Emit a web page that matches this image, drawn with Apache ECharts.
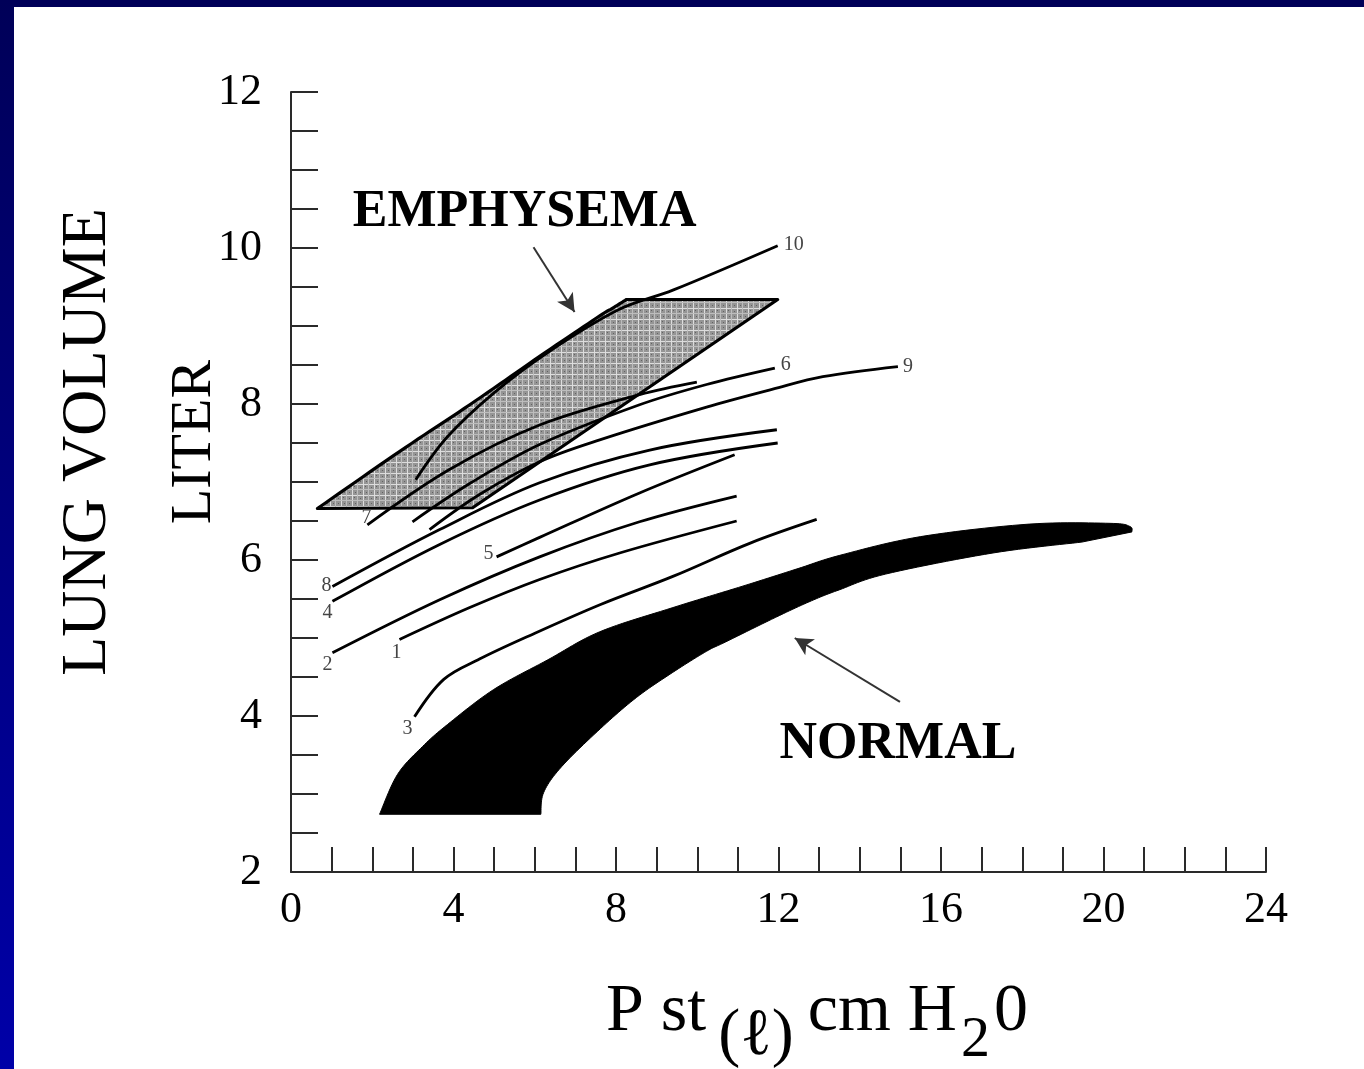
<!DOCTYPE html>
<html>
<head>
<meta charset="utf-8">
<title>Lung volume vs static recoil pressure</title>
<style>
  html, body { margin: 0; padding: 0; background: #ffffff; }
  #chart { position: absolute; left: 0; top: 0; width: 1364px; height: 1069px; }
  #topbar { position: absolute; left: 0; top: 0; width: 1364px; height: 7px; background: #000058; z-index: 2; }
  #leftbar { position: absolute; left: 0; top: 0; width: 14px; height: 1069px; background: linear-gradient(#000058, #0000a8); z-index: 2; }
</style>
<script src="https://cdn.jsdelivr.net/npm/echarts@6/dist/echarts.min.js"></script>
</head>
<body>
<div id="chart"></div>
<div id="topbar"></div>
<div id="leftbar"></div>
<script>
// ---- axes ----
const pressureTicks = [0, 4, 8, 12, 16, 20, 24];   // P st (l), cm H2O
const volumeTicks = [2, 4, 6, 8, 10, 12];          // lung volume, litres

// ---- individual pressure-volume curves, [pressure, volume] ----
const curve1 = [[2.67, 4.98], [4.40, 5.39], [6.12, 5.75], [8.09, 6.09], [10.97, 6.50]];
const curve2 = [[1.02, 4.81], [3.66, 5.49], [6.12, 6.04], [8.58, 6.49], [10.97, 6.82]];
const curve3 = [[3.04, 3.99], [3.76, 4.47], [4.64, 4.73], [5.87, 5.03], [7.62, 5.43], [9.40, 5.79], [11.32, 6.22], [12.94, 6.52]];
const curve4 = [[1.02, 5.47], [3.66, 6.20], [6.12, 6.77], [8.83, 7.22], [11.98, 7.50]];
const curve5 = [[5.06, 6.04], [6.12, 6.29], [8.58, 6.86], [10.92, 7.35]];
const curve6 = [[2.99, 6.49], [4.40, 6.98], [6.12, 7.48], [8.58, 7.99], [10.23, 8.25], [11.91, 8.46]];
const curve7 = [[1.88, 6.45], [3.90, 7.16], [6.12, 7.73], [8.58, 8.12], [9.99, 8.28]];
const curve8 = [[1.02, 5.66], [3.66, 6.39], [6.12, 6.99], [8.83, 7.41], [11.96, 7.67]];
const curve9 = [[3.41, 6.39], [4.64, 6.84], [6.12, 7.26], [7.60, 7.54], [10.23, 7.96], [11.86, 8.19], [13.09, 8.35], [14.94, 8.48]];
const curve10 = [[3.07, 7.03], [3.85, 7.58], [4.99, 8.14], [6.32, 8.66], [8.07, 9.21], [9.40, 9.46], [11.98, 10.03]];

const curveNames = ['1', '2', '3', '4', '5', '6', '7', '8', '9', '10'];
const curveLabelEnd = ['start', 'start', 'start', 'start', 'start', 'end', 'start', 'start', 'end', 'end'];

// ---- envelopes ----
// emphysema band: upper-left edge from the left tip, then its two straight-sided corners
const emphysemaUpperEdge = [[0.65, 6.66], [2.67, 7.39], [4.40, 7.99], [6.12, 8.61], [7.60, 9.13], [7.89, 9.22], [8.26, 9.34]];
const emphysemaCorners = [[11.98, 9.34], [4.47, 6.67]];
// normal band: upper edge left to right, then lower edge right to left
const normalUpper = [[2.18, 2.74], [2.62, 3.25], [3.24, 3.61], [3.85, 3.89], [4.99, 4.34], [6.32, 4.72],
                     [7.60, 5.08], [9.40, 5.39], [11.15, 5.67], [12.48, 5.89], [13.51, 6.06], [15.50, 6.30],
                     [18.17, 6.46], [20.16, 6.47], [20.65, 6.43], [20.70, 6.36]];
const normalLower = [[19.47, 6.23], [17.28, 6.09], [14.64, 5.82], [13.51, 5.62], [12.87, 5.49], [12.03, 5.29],
                     [10.70, 4.95], [10.23, 4.83], [9.40, 4.56], [8.51, 4.24], [7.62, 3.84], [6.66, 3.35],
                     [6.22, 3.02], [6.15, 2.74]];

// ---- annotations ----
const emphysemaTextAt = [5.75, 10.45];
const normalTextAt = [14.94, 3.63];
const emphysemaArrow = [[5.97, 10.01], [6.98, 9.18]];
const normalArrow = [[14.99, 4.18], [12.40, 5.00]];

const FONT = "'Liberation Serif', 'Times New Roman', serif";

const curves = [curve1, curve2, curve3, curve4, curve5, curve6, curve7, curve8, curve9, curve10];
// pixel offsets of each number relative to the curve end it names
const labelOffsets = [[-3, 13], [-5, 12], [-7, 12], [-5, 11], [-8, -3], [11, -3], [-1, -7], [-6, -1], [10, 0], [16, -1]];

// Catmull-Rom path through screen points, used to draw smooth envelope edges
function smoothEdge(pts, steps) {
  const out = [];
  for (let i = 0; i < pts.length - 1; i++) {
    const p0 = pts[Math.max(i - 1, 0)], p1 = pts[i], p2 = pts[i + 1], p3 = pts[Math.min(i + 2, pts.length - 1)];
    for (let s = 0; s < steps; s++) {
      const t = s / steps, t2 = t * t, t3 = t2 * t;
      out.push([0, 1].map(k => 0.5 * (2 * p1[k] + (-p0[k] + p2[k]) * t +
        (2 * p0[k] - 5 * p1[k] + 4 * p2[k] - p3[k]) * t2 +
        (-p0[k] + 3 * p1[k] - 3 * p2[k] + p3[k]) * t3)));
    }
  }
  out.push(pts[pts.length - 1]);
  return out;
}

// cross-hatched grey tile for the emphysema band
function hatchTile() {
  const c = document.createElement('canvas');
  c.width = 11; c.height = 11;
  const g = c.getContext('2d');
  g.fillStyle = '#959595'; g.fillRect(0, 0, 11, 11);
  g.fillStyle = '#dddddd'; g.fillRect(0, 0, 11, 1); g.fillRect(0, 0, 1, 11);
  g.fillStyle = '#bdbdbd'; g.fillRect(5, 0, 1, 11); g.fillRect(0, 5, 11, 1);
  g.fillStyle = '#626262'; g.fillRect(2, 2, 1, 1); g.fillRect(8, 8, 1, 1); g.fillRect(3, 8, 1, 1); g.fillRect(8, 3, 1, 1);
  return c;
}

// a filled envelope: each entry of `parts` is [points, smooth?]
function envelopeSeries(name, parts, style) {
  return {
    type: 'custom',
    name: name,
    coordinateSystem: 'cartesian2d',
    silent: true,
    clip: false,
    data: [parts[0][0][0]],
    renderItem: (params, api) => {
      let pts = [];
      parts.forEach(([p, smooth]) => {
        const px = p.map(v => api.coord(v));
        pts = pts.concat(smooth ? smoothEdge(px, 12) : px);
      });
      return { type: 'polygon', shape: { points: pts }, style: style };
    }
  };
}

const lineSeries = curves.map((c, i) => ({
  type: 'line',
  name: 'curve ' + curveNames[i],
  data: c,
  smooth: 0.35,
  showSymbol: false,
  silent: true,
  lineStyle: { color: '#000', width: 2.8 }
}));

const labelData = curves.map((c, i) => ({
  value: curveLabelEnd[i] === 'start' ? c[0] : c[c.length - 1],
  name: curveNames[i],
  label: { offset: labelOffsets[i] }
}));

const axisColor = '#2a2a2a';

const option = {
  animation: false,
  backgroundColor: '#ffffff',
  grid: { left: 291, right: 98, top: 92, bottom: 197, containLabel: false, outerBoundsMode: 'none' },
  xAxis: {
    type: 'value',
    min: pressureTicks[0],
    max: pressureTicks[pressureTicks.length - 1],
    interval: pressureTicks[1] - pressureTicks[0],
    axisLine: { lineStyle: { color: axisColor, width: 2 } },
    axisTick: { inside: true, length: 25, lineStyle: { color: axisColor, width: 2 } },
    minorTick: { show: true, splitNumber: 4, length: 25, lineStyle: { color: axisColor, width: 2 } },
    splitLine: { show: false },
    axisLabel: { fontFamily: FONT, fontSize: 44, color: '#000', margin: 16 },
    name: '{m|P st}{s|(ℓ)}{m|cm H}{t|2}{m|0}',
    nameLocation: 'middle',
    nameGap: 106,
    nameTextStyle: {
      padding: [0, 0, 0, 77],
      rich: {
        m: { fontFamily: FONT, fontSize: 68, lineHeight: 92, verticalAlign: 'top', color: '#000' },
        s: { fontFamily: FONT, fontSize: 66, verticalAlign: 'bottom', color: '#000', padding: [0, 14, 0, 12] },
        t: { fontFamily: FONT, fontSize: 58, verticalAlign: 'bottom', color: '#000', padding: [0, 4, 0, 4] }
      }
    }
  },
  yAxis: {
    type: 'value',
    min: volumeTicks[0],
    max: volumeTicks[volumeTicks.length - 1],
    interval: volumeTicks[1] - volumeTicks[0],
    axisLine: { lineStyle: { color: axisColor, width: 2 } },
    axisTick: { inside: true, length: 27, lineStyle: { color: axisColor, width: 2 } },
    minorTick: { show: true, splitNumber: 4, length: 27, lineStyle: { color: axisColor, width: 2 } },
    splitLine: { show: false },
    axisLabel: { fontFamily: FONT, fontSize: 44, color: '#000', margin: 29 }
  },
  graphic: [
    {
      type: 'text', x: 88, y: 442, rotation: Math.PI / 2,
      style: { text: 'LUNG VOLUME', font: '64px ' + FONT, fill: '#000', align: 'center', verticalAlign: 'middle', textAlign: 'center', textVerticalAlign: 'middle' }
    },
    {
      type: 'text', x: 195, y: 442, rotation: Math.PI / 2,
      style: { text: 'LITER', font: '58px ' + FONT, fill: '#000', align: 'center', verticalAlign: 'middle', textAlign: 'center', textVerticalAlign: 'middle' }
    }
  ],
  series: [
    envelopeSeries('normal', [[normalUpper, true], [normalLower, true]], { fill: '#000', stroke: '#000', lineWidth: 1 }),
    envelopeSeries('emphysema', [[emphysemaUpperEdge, true], [emphysemaCorners, false]],
      { fill: { image: hatchTile(), repeat: 'repeat' }, stroke: '#000', lineWidth: 3.2, lineJoin: 'round' }),
    ...lineSeries,
    {
      type: 'scatter',
      name: 'curve numbers',
      silent: true,
      symbolSize: 0,
      itemStyle: { opacity: 1 },
      data: labelData,
      label: {
        show: true,
        position: 'inside',
        formatter: '{b}',
        fontFamily: FONT,
        fontSize: 20,
        color: '#444',
        opacity: 1,
        textBorderWidth: 0
      },
      markLine: {
        silent: true,
        symbol: ['none', 'arrow'],
        symbolSize: [14, 18],
        label: { show: false },
        lineStyle: { color: '#333', width: 2, type: 'solid', opacity: 1 },
        data: [
          [{ coord: emphysemaArrow[0] }, { coord: emphysemaArrow[1] }],
          [{ coord: normalArrow[0] }, { coord: normalArrow[1] }]
        ]
      }
    },
    {
      type: 'scatter',
      name: 'groups',
      silent: true,
      symbolSize: 0,
      itemStyle: { opacity: 1 },
      data: [
        { value: emphysemaTextAt, name: 'EMPHYSEMA' },
        { value: normalTextAt, name: 'NORMAL' }
      ],
      label: {
        show: true,
        position: 'inside',
        formatter: '{b}',
        fontFamily: FONT,
        fontWeight: 'bold',
        fontSize: 52,
        color: '#000',
        opacity: 1,
        textBorderWidth: 0
      }
    }
  ]
};

const chart = echarts.init(document.getElementById('chart'), null, { renderer: 'canvas' });
chart.setOption(option);
</script>
</body>
</html>
